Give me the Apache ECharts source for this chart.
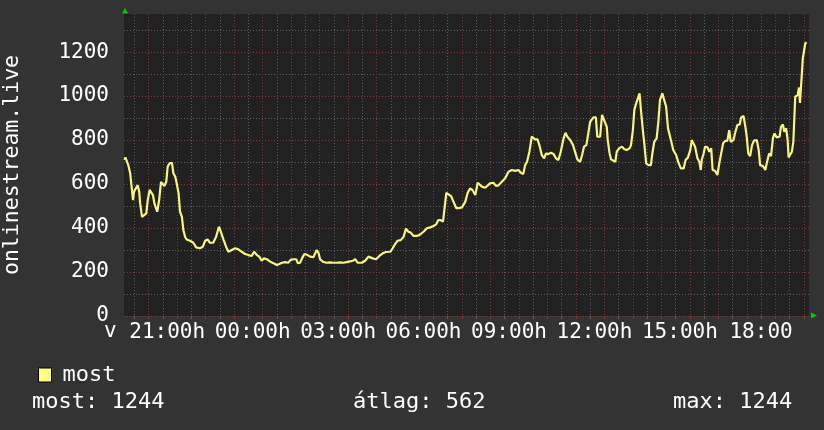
<!DOCTYPE html>
<html><head><meta charset="utf-8">
<script src="https://cdn.jsdelivr.net/npm/echarts@6/dist/echarts.min.js"></script>
<style>html,body{margin:0;padding:0;background:#333333;}#c{width:824px;height:430px;}</style>
</head><body><div id="c"></div>
<script>
// time in minutes relative to 21:00 (first labelled tick)
const times = [-81,-79,-73,-69,-66,-63,-61,-57,-53,-50,-48,-44,-40,-35,-32,-28,-25,-21,-18,-14,-12,-8,-4,0,3,7,10,14,19,22,26,29,33,36,40,43,47,50,57,64,70,78,84,89,94,99,106,112,118,122,128,133,138,145,152,159,166,173,180,187,192,198,203,208,213,219,226,233,240,245,251,257,264,269,275,281,284,289,293,298,303,310,317,321,324,328,331,337,344,352,359,366,373,380,387,394,400,405,410,414,419,426,433,442,449,456,463,470,479,484,489,494,501,507,512,517,522,528,535,542,549,556,563,570,576,580,585,590,594,597,601,607,612,618,623,630,633,637,642,647,652,658,663,667,672,679,682,689,696,702,707,714,721,728,735,742,749,754,759,763,767,772,777,784,789,793,798,803,807,812,817,823,828,833,838,844,848,852,858,864,868,873,879,883,887,892,896,900,907,912,915,921,925,929,935,937,941,944,948,953,956,961,967,972,977,983,986,990,993,997,1000,1004,1007,1011,1014,1018,1023,1028,1031,1035,1040,1044,1047,1052,1056,1060,1064,1067,1071,1075,1081,1086,1091,1097,1101,1106,1111,1114,1118,1121,1126,1130,1133,1135,1139,1142,1147,1151,1155,1158,1163,1168,1172,1176,1180,1184,1189,1193,1196,1202,1205,1210,1215,1218,1223,1227,1230,1233,1237,1241,1245,1251,1255,1258,1264,1269,1272,1277,1281,1285,1288,1293,1299,1302,1306,1309,1313,1316,1318,1321,1325,1328,1332,1337,1340,1342,1346,1348,1351,1353,1356];
const values = [710,721,686,649,641,527,565,560,595,565,512,451,454,467,527,573,573,550,512,505,474,527,610,610,591,610,679,694,697,649,633,603,558,474,451,391,358,348,342,333,312,308,315,342,348,333,333,360,406,383,345,315,292,300,308,303,292,282,277,273,292,277,270,251,262,258,247,240,232,236,242,245,242,255,258,258,240,242,262,282,279,270,267,270,300,285,258,247,242,244,242,242,244,242,245,248,251,259,242,235,242,251,270,262,258,273,285,291,292,308,327,342,345,360,397,383,379,364,364,371,383,399,403,409,418,436,436,429,429,560,558,545,520,490,490,494,485,520,560,580,573,550,606,600,588,583,591,603,606,591,594,610,626,656,664,660,664,651,645,686,701,747,815,803,803,777,732,717,739,736,742,736,717,709,747,808,833,815,800,777,747,712,701,732,770,777,785,883,903,903,815,815,914,921,860,800,739,712,721,701,747,762,770,758,755,762,777,845,936,967,974,1012,936,845,785,694,686,686,739,792,808,891,982,1012,1015,951,853,845,792,755,732,697,671,671,709,721,755,800,800,770,717,701,664,709,739,770,767,747,762,664,660,641,694,701,785,795,797,845,792,800,830,868,871,903,909,860,812,739,727,777,797,800,755,686,682,664,694,739,727,808,830,812,815,860,871,838,853,800,721,724,747,792,997,1004,1039,969,969,1171,1179,1239,1244];

const xLabelTimes = [0,180,360,540,720,900,1080,1260];
const xLabelTexts = ['21:00h','00:00h','03:00h','06:00h','09:00h','12:00h','15:00h','18:00'];
const yMajorTicks = [0,200,400,600,800,1000,1200];
const yMinorTicks = [100,300,500,700,900,1100,1300];
const statTexts = ['most: 1244','átlag: 562','max: 1244'];
const seriesName = 'most';
const yTitle = 'onlinestream.live';

const X_MIN = -82, X_MAX = 1361, Y_MAX = 1373;
const xGreyTicks = [], xRedTicks = [];
for (let t = -60; t <= X_MAX; t += 60) xGreyTicks.push(t);
for (let t = -30; t <= X_MAX; t += 60) xRedTicks.push(t);
const labelShift = 9;
const xLabelPos = xLabelTimes.map((t, i) => t + (xLabelTexts[i].endsWith('h') ? labelShift : 0));

const FONT = 'DejaVu Sans Mono';
const GREY = '#5e5e5e', RED = '#7c3c3c';
const LFONT = '22px "DejaVu Sans Mono"';

const chart = echarts.init(document.getElementById('c'), null, {renderer: 'canvas'});
chart.setOption({
  backgroundColor: '#333333',
  animation: false,
  grid: {left: 124, right: 15, top: 14, bottom: 114, show: true, backgroundColor: '#212121', borderWidth: 0, containLabel: false, outerBoundsMode: 'none'},
  legend: {
    data: [seriesName], left: 33, top: 359, icon: 'rect', itemWidth: 13, itemHeight: 14,
    itemStyle: {color: '#ffff80', borderColor: '#000000', borderWidth: 1},
    textStyle: {color: '#ffffff', fontFamily: FONT, fontSize: 22, padding: [0, 0, 0, 6]}
  },
  xAxis: [
    {type: 'value', min: X_MIN, max: X_MAX, position: 'bottom',
     axisLine: {show: false},
     axisTick: {show: true, length: 3, customValues: xGreyTicks, lineStyle: {color: GREY}},
     splitLine: {show: true, lineStyle: {color: GREY, type: [1, 2], width: 1}},
     axisLabel: {show: true, customValues: xLabelPos, margin: 6, color: '#ffffff', fontFamily: FONT, fontSize: 21,
       formatter: v => { let best = 0; xLabelPos.forEach((p, i) => { if (Math.abs(p - v) < Math.abs(xLabelPos[best] - v)) best = i; }); return xLabelTexts[best]; }}},
    {type: 'value', min: X_MIN, max: X_MAX, position: 'bottom',
     axisLine: {show: false}, axisLabel: {show: false},
     axisTick: {show: true, length: 3, customValues: xRedTicks, lineStyle: {color: RED}},
     splitLine: {show: true, lineStyle: {color: RED, type: [1, 2], width: 1}}}
  ],
  yAxis: [
    {type: 'value', min: 0, max: Y_MAX, position: 'left',
     name: yTitle, nameLocation: 'middle', nameRotate: 90, nameGap: 101,
     nameTextStyle: {color: '#ffffff', fontFamily: FONT, fontSize: 21.5},
     axisLine: {show: false},
     axisTick: {show: false, customValues: yMajorTicks},
     splitLine: {show: true, lineStyle: {color: RED, type: [1, 2], width: 1}},
     axisLabel: {customValues: yMajorTicks, margin: 15, color: '#ffffff', fontFamily: FONT, fontSize: 21,
       formatter: v => String(v)}},
    {type: 'value', min: 0, max: Y_MAX, position: 'left',
     axisLine: {show: false}, axisLabel: {show: false},
     axisTick: {show: false, customValues: yMinorTicks},
     splitLine: {show: true, lineStyle: {color: GREY, type: [1, 2], width: 1}}}
  ],
  series: [{
    name: seriesName, type: 'line', xAxisIndex: 0, yAxisIndex: 0,
    showSymbol: false, symbol: 'none',
    itemStyle: {color: '#ffff80'},
    lineStyle: {color: '#f8f47c', width: 2.2},
    data: times.map((t, i) => [t, values[i]])
  }],
  graphic: [
    {type: 'text', left: 32, top: 391, style: {text: statTexts[0], fill: '#ffffff', font: LFONT}},
    {type: 'text', left: 353, top: 391, style: {text: statTexts[1], fill: '#ffffff', font: LFONT}},
    {type: 'text', left: 673, top: 391, style: {text: statTexts[2], fill: '#ffffff', font: LFONT}},
    {type: 'text', left: 104, top: 321, style: {text: 'v', fill: '#ffffff', font: '21px "DejaVu Sans Mono"'}},
    {type: 'polygon', shape: {points: [[122, 13.5], [128, 13.5], [125, 8]]}, style: {fill: '#00cc00'}},
    {type: 'polygon', shape: {points: [[811, 312.5], [811, 318.5], [817, 315.5]]}, style: {fill: '#00cc00'}}
  ]
});
</script></body></html>
